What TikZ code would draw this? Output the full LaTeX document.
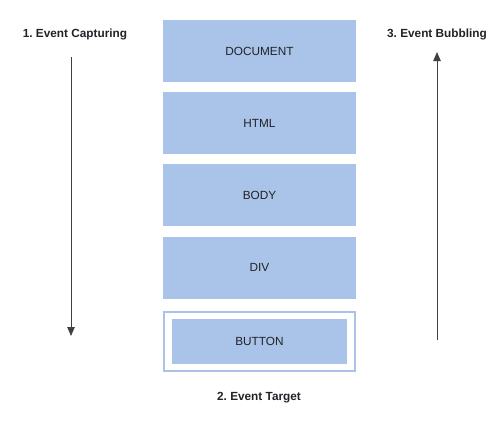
\documentclass[tikz,border=0pt]{standalone}
\usepackage{fontspec}
\setmainfont{Liberation Sans}
\usetikzlibrary{arrows.meta}
\definecolor{layerblue}{RGB}{169,196,232}
\definecolor{inktext}{RGB}{34,34,40}
\frenchspacing

\begin{document}
\begin{tikzpicture}[x=1pt, y=-1pt,
				      layer/.style = {shape=rectangle, fill=layerblue,
						      minimum width=193pt, minimum height=62pt,
						      inner sep=0pt, text=inktext,
						      font=\fontsize{11.8}{13}\selectfont},
				      frame/.style = {shape=rectangle, draw=layerblue, fill=white,
						      line width=1.5pt, minimum width=191pt,
						      minimum height=59pt},
				      phase/.style = {text=inktext,
						      font=\bfseries\fontsize{11.8}{13}\selectfont},
				      flow/.style = {-{Triangle[length=9pt,width=7.5pt]},
						      line width=0.8pt, draw=black!75}
			      ]
			      \useasboundingbox (0,0) rectangle (496,434);

			      % nested elements
			      \node[layer] (document) at (259.5,51) {DOCUMENT};
			      \node[layer] (html) at (259.5,123) {HTML};
			      \node[layer] (body) at (259.5,195) {BODY};
			      \node[layer] (div) at (259.5,267.5) {DIV};
			      \node[frame] (targetbox) at (259.5,341.5) {};
			      \node[layer, minimum width=175pt, minimum height=45pt]
				      (button) at (targetbox.center) {BUTTON};

			      % phases
			      \node[phase] (capturing) at (75,34) {1. Event Capturing};
			      \node[phase] (targetlbl) at (259,398) {2. Event Target};
			      \node[phase] (bubbling) at (437,34) {3. Event Bubbling};

			      \coordinate (capstart) at (71,57);
			      \coordinate (capend) at (71,336);
			      \coordinate (bubstart) at (437,340);
			      \coordinate (bubend) at (437,52);
			      \draw[flow] (capstart) -- (capend);
			      \draw[flow] (bubstart) -- (bubend);
		      \end{tikzpicture}
\end{document}
